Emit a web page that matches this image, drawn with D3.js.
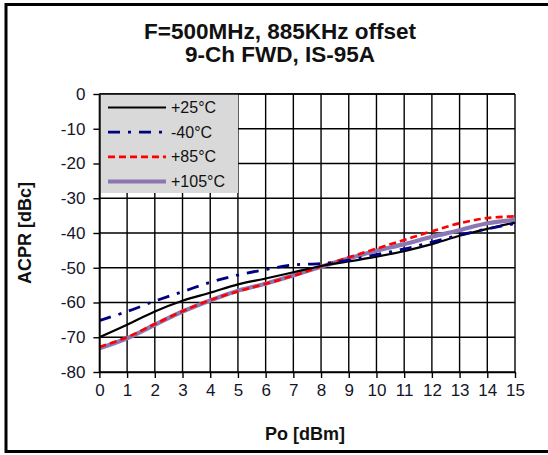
<!DOCTYPE html>
<html>
<head>
<meta charset="utf-8">
<script src="https://cdn.jsdelivr.net/npm/d3@7"></script>
<style>
  html, body { margin: 0; padding: 0; background: #fff; }
  svg { display: block; font-family: "Liberation Sans", Arial, sans-serif; }
</style>
</head>
<body>
<svg id="chart" width="548" height="455"></svg>
<script>
// Output power sweep (dBm)
const po = [0, 1, 2, 3, 4, 5, 6, 7, 8, 9, 10, 11, 12, 13, 14, 15];

// ACPR (dBc) per temperature
const acpr25 = [-70, -66.4, -62.6, -59.5, -57.2, -54.8, -53.1, -51.3, -49.5, -48.2, -46.8, -45.2, -43.2, -40.8, -38.8, -37];
const acprMinus40 = [-65.2, -62.6, -59.6, -56.9, -54.2, -52.1, -50.5, -49.2, -48.8, -47.8, -46.2, -44.6, -42.6, -40.6, -38.8, -37.3];
const acpr85 = [-72.8, -70, -66.2, -62.5, -59.3, -56.8, -54.6, -52.3, -49.6, -47, -44.5, -42, -39.5, -37.2, -35.7, -35.2];
const acpr105 = [-73.2, -70.3, -66.4, -62.6, -59.4, -56.6, -54.6, -52.2, -49.7, -47.3, -45.1, -43.2, -41.1, -39.2, -37.2, -36.2];

const seriesNames = ["+25°C", "-40°C", "+85°C", "+105°C"];
const xTicks = d3.range(0, 16, 1);
const yTicks = d3.range(-80, 1, 10);

const series = [
  { name: seriesNames[0], values: acpr25, color: "#000000", width: 2.2, dash: null },
  { name: seriesNames[1], values: acprMinus40, color: "#000080", width: 2.8, dash: "12,8,3,8" },
  { name: seriesNames[2], values: acpr85, color: "#ff0000", width: 2.6, dash: "7,4" },
  { name: seriesNames[3], values: acpr105, color: "#8b78b3", width: 4.2, dash: null }
];

const svg = d3.select("#chart");
const W = 548;
const plot = { left: 99.4, right: 515, top: 94, bottom: 372 };

// outer frame
svg.append("rect")
  .attr("x", 6).attr("y", 4.5)
  .attr("width", W + 10).attr("height", 447)
  .attr("fill", "#fff").attr("stroke", "#000").attr("stroke-width", 3);

const x = d3.scaleLinear().domain([0, 15]).range([plot.left, plot.right]);
const y = d3.scaleLinear().domain([-80, 0]).range([plot.bottom, plot.top]);

// grid
const grid = svg.append("g").attr("stroke", "#000").attr("stroke-width", 1.4);
grid.selectAll("line.v").data(xTicks).join("line").attr("class", "v")
  .attr("x1", d => x(d)).attr("x2", d => x(d))
  .attr("y1", plot.top).attr("y2", plot.bottom);
grid.selectAll("line.h").data(yTicks).join("line").attr("class", "h")
  .attr("x1", plot.left).attr("x2", plot.right)
  .attr("y1", d => y(d)).attr("y2", d => y(d));

// series
const line = d3.line()
  .x((d, i) => x(po[i]))
  .y(d => y(d))
  .curve(d3.curveCatmullRom.alpha(0.5));

const drawOrder = [3, 2, 0, 1];
drawOrder.forEach(k => {
  const s = series[k];
  svg.append("path")
    .datum(s.values)
    .attr("d", line)
    .attr("fill", "none")
    .attr("stroke", s.color)
    .attr("stroke-width", s.width)
    .attr("stroke-dasharray", s.dash)
    .attr("stroke-linejoin", "round");
});

// legend
const legend = svg.append("g");
legend.append("rect")
  .attr("x", plot.left).attr("y", plot.top)
  .attr("width", 238 - plot.left).attr("height", 193 - plot.top)
  .attr("fill", "#d9d9d9");
const legendY = d3.scalePoint().domain(seriesNames).range([107.5, 181.5]);
series.forEach(s => {
  const ly = legendY(s.name);
  legend.append("line")
    .attr("x1", 108).attr("x2", 166)
    .attr("y1", ly).attr("y2", ly)
    .attr("stroke", s.color)
    .attr("stroke-width", s.width)
    .attr("stroke-dasharray", s.dash);
  legend.append("text")
    .attr("x", 171).attr("y", ly + 5.5)
    .attr("font-size", 16)
    .attr("fill", "#111")
    .text(s.name);
});

// axes
const fmt = d => String(d);
const xAxis = d3.axisBottom(x).tickValues(xTicks).tickFormat(fmt).tickSize(6).tickPadding(6).tickSizeOuter(0);
const yAxis = d3.axisLeft(y).tickValues(yTicks).tickFormat(fmt).tickSize(6).tickPadding(8).tickSizeOuter(0);

const gx = svg.append("g").attr("transform", `translate(0,${plot.bottom})`).call(xAxis);
const gy = svg.append("g").attr("transform", `translate(${plot.left},0)`).call(yAxis);
[gx, gy].forEach(g => {
  g.select(".domain").attr("stroke", "#000").attr("stroke-width", 1.6);
  g.selectAll(".tick line").attr("stroke", "#000").attr("stroke-width", 1.4);
  g.selectAll(".tick text")
    .attr("font-family", "'Liberation Sans', Arial, sans-serif")
    .attr("font-size", 17)
    .attr("fill", "#15152a");
});
gx.selectAll(".tick text").attr("dy", "0.72em");

// top edge of plot area
svg.append("line")
  .attr("x1", plot.left).attr("x2", plot.right)
  .attr("y1", plot.top).attr("y2", plot.top)
  .attr("stroke", "#000").attr("stroke-width", 1.4);

// titles
const title = svg.append("g")
  .attr("font-weight", "bold").attr("font-size", 22.5).attr("fill", "#111")
  .attr("text-anchor", "middle");
title.append("text").attr("x", 280).attr("y", 39).text("F=500MHz, 885KHz offset");
title.append("text").attr("x", 280).attr("y", 62).text("9-Ch FWD, IS-95A");

svg.append("text")
  .attr("x", 305).attr("y", 440)
  .attr("text-anchor", "middle")
  .attr("font-weight", "bold").attr("font-size", 18).attr("fill", "#111")
  .text("Po [dBm]");

svg.append("text")
  .attr("transform", `translate(31,${(plot.top + plot.bottom) / 2}) rotate(-90)`)
  .attr("text-anchor", "middle")
  .attr("font-weight", "bold").attr("font-size", 18).attr("fill", "#111")
  .text("ACPR [dBc]");
</script>
</body>
</html>
